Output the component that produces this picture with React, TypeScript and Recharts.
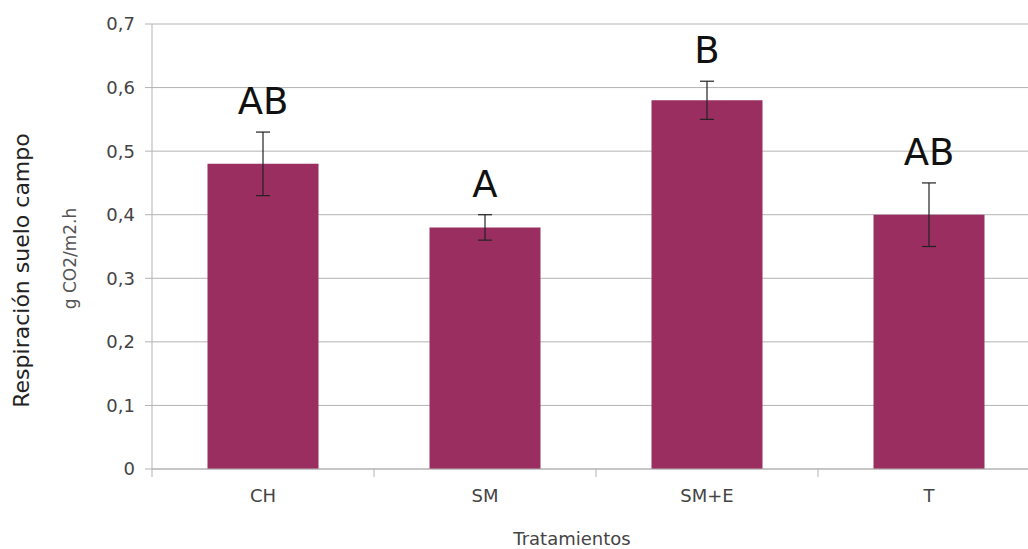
import React from 'react';
import {
  BarChart,
  Bar,
  XAxis,
  YAxis,
  CartesianGrid,
  ErrorBar,
  LabelList,
} from 'recharts';

// Soil respiration per treatment (g CO2/m2.h), standard error and significance group
const treatments = ['CH', 'SM', 'SM+E', 'T'];
const respiration = [0.48, 0.38, 0.58, 0.4];
const stdError = [0.05, 0.02, 0.03, 0.05];
const groups = ['AB', 'A', 'B', 'AB'];
const yTicks = [0, 0.1, 0.2, 0.3, 0.4, 0.5, 0.6, 0.7];

const data = treatments.map((t, i) => ({
  name: t,
  value: respiration[i],
  err: stdError[i],
  group: groups[i],
}));

const FONT = '"DejaVu Sans", "Liberation Sans", sans-serif';
const GRID = '#b3b3b3';
const BAR = '#9a2e60';
const TICK_SIZE = 8;
const TICK_MARGIN = 14;

const formatY = (v: number) => (v === 0 ? '0' : v.toFixed(1).replace('.', ','));

// Category tick: label centred on the bar, tick mark on the category boundary
const XTick = (props: any) => {
  const { x, y, payload } = props;
  const axisY = y - TICK_SIZE - TICK_MARGIN;
  const half = payload && typeof payload.offset === 'number' ? payload.offset : 0;
  return (
    <g>
      <line x1={x - half} y1={axisY} x2={x - half} y2={axisY + TICK_SIZE} stroke={GRID} strokeWidth={1} />
      <text
        x={x}
        y={axisY + 33}
        textAnchor="middle"
        fontFamily={FONT}
        fontSize={18}
        fill="#444"
      >
        {payload.value}
      </text>
    </g>
  );
};

// Significance letter placed above the top of the error bar
const GroupLabel = (props: any) => {
  const { x, y, width, height, value, index } = props;
  const v = respiration[index];
  const pxPerUnit = v ? height / v : 0;
  const errTop = y - stdError[index] * pxPerUnit;
  return (
    <text
      x={x + width / 2}
      y={errTop - 18}
      textAnchor="middle"
      fontFamily={FONT}
      fontSize={37}
      fill="#111"
    >
      {value}
    </text>
  );
};

const YTitles = (props: any) => {
  const { viewBox } = props;
  const cy = viewBox.y + viewBox.height / 2;
  return (
    <g>
      <text
        x={21}
        y={cy + 24}
        transform={`rotate(-90, 21, ${cy + 24})`}
        textAnchor="middle"
        dominantBaseline="central"
        fontFamily={FONT}
        fontSize={22}
        fill="#222"
      >
        Respiración suelo campo
      </text>
      <text
        x={70}
        y={cy + 12}
        transform={`rotate(-90, 70, ${cy + 12})`}
        textAnchor="middle"
        dominantBaseline="central"
        fontFamily={FONT}
        fontSize={17}
        fill="#555"
      >
        g CO2/m2.h
      </text>
    </g>
  );
};

const XTitle = (props: any) => {
  const { viewBox } = props;
  return (
    <text
      x={viewBox.x + viewBox.width / 2 - 24}
      y={545}
      textAnchor="middle"
      fontFamily={FONT}
      fontSize={18}
      fill="#444"
    >
      Tratamientos
    </text>
  );
};

export default function App() {
  return (
    <div
      style={{
        position: 'fixed',
        left: 0,
        top: 0,
        width: 1028,
        height: 549,
        overflow: 'hidden',
        background: '#fff',
      }}
    >
      <BarChart
        width={1050}
        height={549}
        data={data}
        margin={{ top: 24, right: 10, bottom: 0, left: 0 }}
        barCategoryGap="25%"
      >
        <CartesianGrid vertical={false} stroke={GRID} />
        <XAxis
          dataKey="name"
          height={80}
          axisLine={{ stroke: GRID }}
          tickLine={false}
          tickSize={TICK_SIZE}
          tickMargin={TICK_MARGIN}
          tick={<XTick />}
          interval={0}
          label={{ content: <XTitle /> }}
        />
        <YAxis
          width={152}
          domain={[0, 0.7]}
          ticks={yTicks}
          tickFormatter={formatY}
          axisLine={{ stroke: GRID }}
          tickLine={{ stroke: GRID }}
          tickSize={7}
          tickMargin={10}
          tick={{ fontFamily: FONT, fontSize: 18, fill: '#444' }}
          label={{ content: <YTitles /> }}
        />
        <Bar dataKey="value" fill={BAR} isAnimationActive={false}>
          <ErrorBar dataKey="err" width={7} stroke="#222" strokeWidth={1.2} direction="y" />
          <LabelList dataKey="group" content={<GroupLabel />} />
        </Bar>
      </BarChart>
    </div>
  );
}
